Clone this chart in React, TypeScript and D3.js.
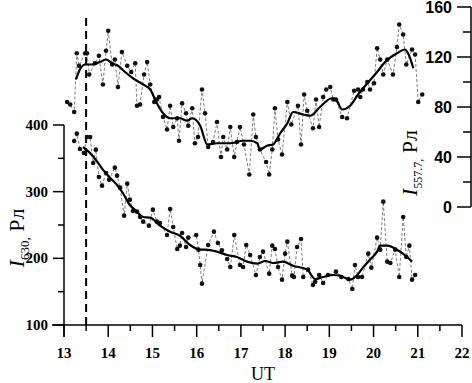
import React, { useRef, useEffect } from 'react';
import * as d3 from 'd3';

// I 557.7 (right axis) — raw points
const greenT = [13.07, 13.14, 13.23, 13.29, 13.34, 13.48, 13.52, 13.57, 13.70, 13.79, 13.88, 13.95, 14.00, 14.09, 14.15, 14.22, 14.31, 14.43, 14.52, 14.61, 14.65, 14.72, 14.81, 14.88, 14.95, 15.04, 15.10, 15.15, 15.24, 15.33, 15.40, 15.47, 15.56, 15.60, 15.67, 15.76, 15.81, 15.90, 15.96, 16.03, 16.12, 16.19, 16.26, 16.37, 16.46, 16.55, 16.60, 16.69, 16.76, 16.85, 16.91, 16.98, 17.07, 17.19, 17.28, 17.34, 17.43, 17.57, 17.64, 17.71, 17.77, 17.84, 17.93, 18.05, 18.14, 18.29, 18.36, 18.43, 18.50, 18.63, 18.70, 18.77, 18.86, 18.93, 19.02, 19.09, 19.15, 19.29, 19.40, 19.56, 19.65, 19.70, 19.76, 19.86, 19.92, 20.01, 20.08, 20.15, 20.22, 20.31, 20.44, 20.53, 20.58, 20.67, 20.74, 20.87, 20.94, 21.01, 21.10];
const greenV = [84, 82, 76, 123, 113, 123, 123, 106, 115, 121, 98, 125, 141, 114, 118, 96, 124, 113, 108, 115, 81, 82, 106, 116, 98, 84, 86, 88, 72, 62, 81, 64, 71, 53, 83, 75, 65, 79, 51, 56, 94, 75, 48, 52, 68, 40, 56, 46, 64, 40, 52, 64, 50, 26, 74, 56, 46, 36, 26, 46, 79, 54, 42, 84, 66, 81, 50, 90, 77, 63, 86, 64, 88, 94, 96, 86, 86, 72, 71, 93, 94, 88, 94, 100, 94, 99, 127, 118, 106, 118, 106, 128, 146, 138, 114, 126, 122, 84, 90];

// I 557.7 — smoothed
const greenSmoothT = [13.27, 13.36, 13.48, 13.63, 13.81, 13.95, 14.09, 14.22, 14.38, 14.56, 14.79, 14.95, 15.10, 15.24, 15.40, 15.62, 15.78, 15.90, 16.08, 16.24, 16.46, 16.76, 17.05, 17.21, 17.37, 17.43, 17.59, 17.73, 17.89, 18.05, 18.18, 18.41, 18.57, 18.79, 19.06, 19.15, 19.29, 19.47, 19.65, 19.86, 20.08, 20.26, 20.53, 20.71, 20.78, 20.90];
const greenSmoothV = [102, 110, 114, 114, 116, 118, 115, 113, 108, 103, 98, 94, 83, 75, 71, 71, 69, 71, 65, 50, 51, 51, 53, 53, 51, 46, 49, 50, 59, 67, 76, 74, 73, 80, 87, 86, 78, 81, 90, 99, 108, 116, 123, 126, 123, 111];

// I 630 (left axis) — raw points
const redT = [13.23, 13.29, 13.36, 13.45, 13.52, 13.59, 13.66, 13.72, 13.79, 13.86, 13.95, 14.02, 14.15, 14.20, 14.27, 14.36, 14.43, 14.49, 14.56, 14.65, 14.72, 14.79, 14.92, 15.01, 15.10, 15.17, 15.33, 15.40, 15.47, 15.56, 15.62, 15.67, 15.76, 15.81, 15.99, 16.04, 16.08, 16.12, 16.26, 16.39, 16.48, 16.57, 16.69, 16.76, 16.85, 16.98, 17.05, 17.12, 17.21, 17.34, 17.43, 17.50, 17.64, 17.71, 17.77, 17.84, 17.93, 18.00, 18.05, 18.16, 18.20, 18.27, 18.36, 18.41, 18.52, 18.63, 18.68, 18.77, 18.86, 18.97, 19.15, 19.27, 19.43, 19.52, 19.58, 19.65, 19.74, 19.88, 19.95, 20.08, 20.15, 20.22, 20.31, 20.38, 20.49, 20.58, 20.67, 20.74, 20.81, 20.87, 20.94];
const redV = [376, 387, 364, 358, 382, 382, 343, 363, 322, 309, 328, 318, 336, 324, 306, 264, 312, 288, 271, 270, 262, 255, 249, 273, 255, 253, 235, 274, 247, 214, 219, 238, 217, 231, 235, 213, 190, 162, 220, 240, 223, 212, 199, 187, 235, 190, 187, 220, 205, 175, 202, 210, 177, 219, 214, 187, 168, 207, 225, 174, 172, 217, 229, 172, 183, 160, 165, 175, 163, 175, 180, 172, 169, 154, 190, 172, 172, 207, 186, 231, 213, 285, 195, 193, 213, 172, 262, 202, 219, 168, 175];

// I 630 — smoothed
const redSmoothT = [13.43, 13.59, 13.75, 13.88, 14.04, 14.20, 14.33, 14.49, 14.65, 14.79, 14.95, 15.17, 15.40, 15.62, 15.85, 16.08, 16.19, 16.46, 16.69, 16.91, 17.14, 17.37, 17.55, 17.73, 17.95, 18.18, 18.50, 18.68, 18.86, 19.09, 19.24, 19.47, 19.63, 19.76, 19.92, 20.08, 20.15, 20.31, 20.53, 20.76, 20.87];
const redSmoothV = [367, 358, 345, 333, 321, 310, 298, 280, 270, 262, 261, 249, 240, 234, 220, 213, 213, 210, 205, 202, 195, 192, 196, 193, 195, 189, 183, 169, 172, 175, 174, 168, 175, 186, 198, 210, 219, 219, 213, 202, 195];

const xTicks = [13, 14, 15, 16, 17, 18, 19, 20, 21, 22];
const leftTicks = [100, 200, 300, 400];
const rightTicks = [0, 40, 80, 120, 160];
const eventTime = 13.5;

const Chart = () => {
  const svgRef = useRef(null);

  useEffect(() => {
    const svg = d3.select(svgRef.current);
    svg.selectAll('*').remove();

    const x = d3.scaleLinear().domain([13, 22]).range([64, 462]);
    const yL = d3.scaleLinear().domain([100, 400]).range([325, 125]);
    const yR = d3.scaleLinear().domain([0, 160]).range([207, 7]);
    const rightX = 471;

    const serif = '"Liberation Serif", "Times New Roman", serif';
    const sans = '"Liberation Sans", Arial, sans-serif';

    // event marker
    svg.append('line')
      .attr('x1', x(eventTime)).attr('x2', x(eventTime))
      .attr('y1', 18).attr('y2', 325)
      .attr('stroke', '#000')
      .attr('stroke-width', 2)
      .attr('stroke-dasharray', '8,5');

    const drawSeries = (t, v, st, sv, y) => {
      const pts = t.map((d, i) => [d, v[i]]);
      const sm = st.map((d, i) => [d, sv[i]]);
      const line = d3.line().x(d => x(d[0])).y(d => y(d[1]));
      svg.append('path')
        .attr('d', line(pts))
        .attr('fill', 'none')
        .attr('stroke', '#444')
        .attr('stroke-width', 0.7)
        .attr('stroke-dasharray', '3,2');
      svg.append('g')
        .selectAll('circle')
        .data(pts)
        .join('circle')
        .attr('cx', d => x(d[0]))
        .attr('cy', d => y(d[1]))
        .attr('r', 2.3)
        .attr('fill', '#111');
      svg.append('path')
        .attr('d', line.curve(d3.curveMonotoneX)(sm))
        .attr('fill', 'none')
        .attr('stroke', '#000')
        .attr('stroke-width', 2.2)
        .attr('stroke-linejoin', 'round');
    };

    drawSeries(greenT, greenV, greenSmoothT, greenSmoothV, yR);
    drawSeries(redT, redV, redSmoothT, redSmoothV, yL);

    // x axis
    const gx = svg.append('g').attr('transform', 'translate(0,325)');
    gx.append('line').attr('x1', 52).attr('x2', x(22)).attr('stroke', '#000').attr('stroke-width', 1.5);
    const xMinor = d3.range(13.5, 22, 1);
    gx.selectAll('.mj').data(xTicks).join('line')
      .attr('x1', d => x(d)).attr('x2', d => x(d))
      .attr('y1', 0).attr('y2', 12)
      .attr('stroke', '#000').attr('stroke-width', 1.5);
    gx.selectAll('.mn').data(xMinor).join('line')
      .attr('x1', d => x(d)).attr('x2', d => x(d))
      .attr('y1', 0).attr('y2', 6)
      .attr('stroke', '#000').attr('stroke-width', 1.5);
    gx.selectAll('text').data(xTicks).join('text')
      .attr('x', d => x(d)).attr('y', 33)
      .attr('text-anchor', 'middle')
      .attr('font-family', serif).attr('font-weight', 'bold').attr('font-size', 15)
      .text(d => d);
    svg.append('text')
      .attr('x', x(17.5)).attr('y', 380)
      .attr('text-anchor', 'middle')
      .attr('font-family', serif).attr('font-size', 18)
      .text('UT');

    // left axis
    const gl = svg.append('g').attr('transform', `translate(${x(13)},0)`);
    gl.append('line').attr('y1', yL(400)).attr('y2', 337).attr('stroke', '#000').attr('stroke-width', 1.5);
    gl.selectAll('.mj').data(leftTicks).join('line')
      .attr('x1', -11).attr('x2', 0)
      .attr('y1', d => yL(d)).attr('y2', d => yL(d))
      .attr('stroke', '#000').attr('stroke-width', 1.5);
    gl.selectAll('.mn').data([150, 250, 350]).join('line')
      .attr('x1', -6).attr('x2', 0)
      .attr('y1', d => yL(d)).attr('y2', d => yL(d))
      .attr('stroke', '#000').attr('stroke-width', 1.5);
    gl.selectAll('text').data(leftTicks).join('text')
      .attr('x', -16).attr('y', d => yL(d) + 5)
      .attr('text-anchor', 'end')
      .attr('font-family', serif).attr('font-weight', 'bold').attr('font-size', 15)
      .text(d => d);
    const lt = svg.append('text')
      .attr('transform', 'translate(24,238) rotate(-90)')
      .attr('text-anchor', 'middle')
      .attr('font-family', serif).attr('font-size', 22);
    lt.append('tspan').attr('font-style', 'italic').text('I');
    lt.append('tspan').attr('font-size', 13).attr('dy', 5).text('630');
    lt.append('tspan').attr('font-size', 13).text(',');
    lt.append('tspan').attr('dy', -5).text(' Рл');

    // right axis
    const gr = svg.append('g').attr('transform', `translate(${rightX},0)`);
    gr.append('line').attr('y1', yR(160)).attr('y2', yR(0)).attr('stroke', '#000').attr('stroke-width', 1.5);
    gr.selectAll('.mj').data(rightTicks).join('line')
      .attr('x1', -14).attr('x2', 0)
      .attr('y1', d => yR(d)).attr('y2', d => yR(d))
      .attr('stroke', '#000').attr('stroke-width', 1.5);
    gr.selectAll('.mn').data([20, 60, 100, 140]).join('line')
      .attr('x1', -8).attr('x2', 0)
      .attr('y1', d => yR(d)).attr('y2', d => yR(d))
      .attr('stroke', '#000').attr('stroke-width', 1.5);
    gr.selectAll('text').data(rightTicks).join('text')
      .attr('x', -19).attr('y', d => yR(d) + 6)
      .attr('text-anchor', 'end')
      .attr('font-family', sans).attr('font-weight', 'bold').attr('font-size', 16)
      .text(d => d);
    const rt = svg.append('text')
      .attr('transform', 'translate(417,163) rotate(-90)')
      .attr('text-anchor', 'middle')
      .attr('font-family', serif).attr('font-size', 22);
    rt.append('tspan').attr('font-style', 'italic').text('I');
    rt.append('tspan').attr('font-size', 12).attr('dy', 5).text('557.7');
    rt.append('tspan').attr('font-size', 12).text(',');
    rt.append('tspan').attr('dy', -5).text(' Рл');
  }, []);

  return <svg ref={svgRef} width={472} height={383} style={{ position: 'absolute', left: 0, top: 0, background: '#fff' }}></svg>;
};

export default function App() {
  return <Chart />;
}
